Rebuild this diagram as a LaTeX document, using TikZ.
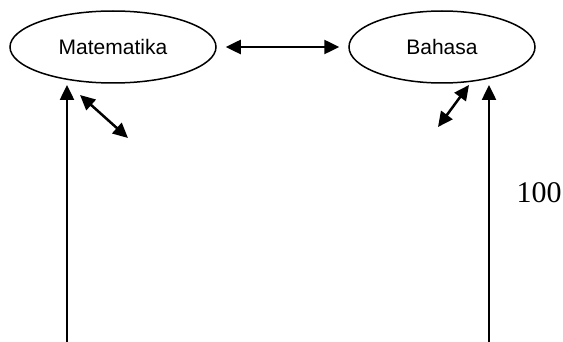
\documentclass[tikz,border=0pt]{standalone}
\usepackage{fontspec}
\setmainfont{Liberation Serif}
\newfontfamily\labelfont{Liberation Sans}
\usetikzlibrary{shapes.geometric,arrows.meta}
\tikzset{
  bubble/.style={draw,ellipse,line width=1.5pt,inner sep=0pt,font=\labelfont\fontsize{21}{24}\selectfont},
  link/.style={line width=2.5pt,{Triangle[length=15pt,width=14pt]}-{Triangle[length=15pt,width=14pt]}},
  uplink/.style={line width=2.5pt,-{Triangle[length=15pt,width=14pt]}}
}
\begin{document}
\begin{tikzpicture}[x=1pt,y=-1pt]
\useasboundingbox (0,0) rectangle (563,342);
\node[bubble,minimum width=206pt,minimum height=72pt] (mat) at (113,47) {Matematika};
\node[bubble,minimum width=186pt,minimum height=72pt] (bah) at (442,47) {Bahasa};
\node[font=\fontsize{30}{34}\selectfont,inner sep=0pt] (num) at (539,193) {100};
\coordinate (l0) at (67,345);
\coordinate (l1) at (67,85);
\coordinate (r0) at (489,345);
\coordinate (r1) at (489,85);
\coordinate (a1) at (80,95);
\coordinate (a2) at (128,138);
\coordinate (b1) at (469,85);
\coordinate (b2) at (438,127);
\draw[link,shorten <=9pt,shorten >=9pt] (mat) -- (bah);
\draw[uplink] (l0) -- (l1);
\draw[uplink] (r0) -- (r1);
\draw[link] (a1) -- (a2);
\draw[link] (b1) -- (b2);
\end{tikzpicture}
\end{document}
